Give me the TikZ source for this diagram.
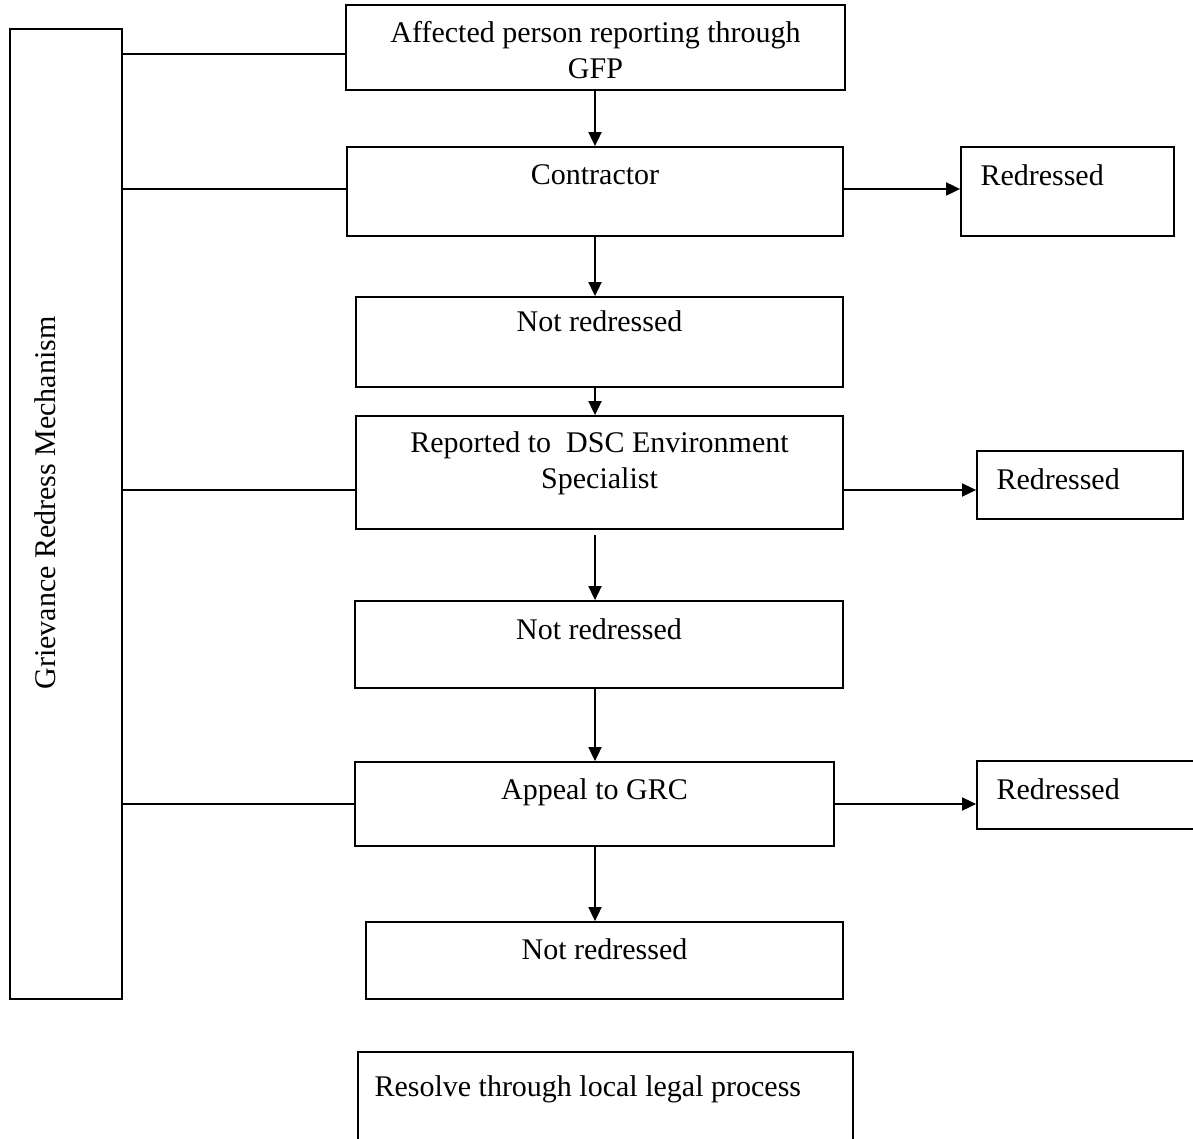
\documentclass[tikz,border=0pt]{standalone}
\usepackage{fontspec}
\setmainfont{Liberation Serif}
\usetikzlibrary{arrows.meta}

\begin{document}
\begin{tikzpicture}[
  x=0.5pt, y=-0.5pt,
  box/.style={draw, line width=0.9pt, inner sep=0pt},
  txt/.style={anchor=base, align=center, inner sep=0pt,
              font=\fontsize{15}{18}\selectfont},
  ltxt/.style={txt, anchor=base west},
  >={Triangle[length=7pt, width=6.5pt]}
]
\useasboundingbox (0,0) rectangle (1193,1139);

% side box
\node[box, minimum width=56pt, minimum height=485pt] (grm) at (66,514) {};
\node[txt, rotate=90] (grm-t) at ([xshift=-5.5pt, yshift=5.5pt]grm.center)
  {Grievance Redress Mechanism};

% main column
\node[box, minimum width=249.5pt, minimum height=42.5pt] (b1) at (595.5,47.5) {};
\node[box, minimum width=248pt,   minimum height=44.5pt] (b2) at (595,191.5) {};
\node[box, minimum width=243.5pt, minimum height=45pt]   (b3) at (599.5,342) {};
\node[box, minimum width=243.5pt, minimum height=56.5pt] (b4) at (599.5,472.5) {};
\node[box, minimum width=244pt,   minimum height=43.5pt] (b5) at (599,644.5) {};
\node[box, minimum width=239.5pt, minimum height=42pt]   (b6) at (594.5,804) {};
\node[box, minimum width=238.5pt, minimum height=38.5pt] (b7) at (604.5,960.5) {};
\node[box, minimum width=247.5pt, minimum height=59pt]   (b8) at (605.5,1111) {};

% redressed boxes
\node[box, minimum width=106.5pt, minimum height=44.5pt] (r1) at (1067.5,191.5) {};
\node[box, minimum width=103pt,   minimum height=34pt]   (r2) at (1080,485) {};
\node[box, minimum width=119pt,   minimum height=34pt]   (r3) at (1096,795) {};

% texts (base of a two-line text is its last line)
\node[txt] (b1-t) at ([yshift=-37pt]b1.north) {Affected person reporting through\\GFP};
\node[txt] (b2-t) at ([yshift=-19pt]b2.north) {Contractor};
\node[txt] (b3-t) at ([yshift=-17.5pt]b3.north) {Not redressed};
\node[txt] (b4-t) at ([yshift=-36.5pt]b4.north) {Reported to~ DSC Environment\\Specialist};
\node[txt] (b5-t) at ([yshift=-19.5pt]b5.north) {Not redressed};
\node[txt] (b6-t) at ([yshift=-19pt]b6.north) {Appeal to GRC};
\node[txt] (b7-t) at ([yshift=-19pt]b7.north) {Not redressed};
\node[ltxt] (b8-t) at ([xshift=8.5pt, yshift=-22.5pt]b8.north west) {Resolve through local legal process};
\foreach \r in {r1,r2,r3}
  \node[ltxt] (\r-t) at ([xshift=10pt, yshift=-19.5pt]\r.north west) {Redressed};

% links from the side box
\coordinate (b1m) at ([yshift=-3.25pt]b1.west);
\coordinate (b2m) at ([yshift=1.25pt]b2.west);
\coordinate (b4m) at ([yshift=-8.75pt]b4.west);
\draw[line width=0.9pt] (grm.east |- b1m) -- (b1m);
\draw[line width=0.9pt] (grm.east |- b2m) -- (b2m);
\draw[line width=0.9pt] (grm.east |- b4m) -- (b4m);
\draw[line width=0.9pt] (grm.east |- b6.west) -- (b6.west);

% flow arrows
\foreach \a/\b in {b1/b2, b2/b3, b3/b4, b5/b6, b6/b7}
  \draw[->, line width=0.9pt] (\a.south -| b2.south) -- (\b.north -| b2.south);
\draw[->, line width=0.9pt, shorten <=2.5pt] (b4.south -| b2.south) -- (b5.north -| b2.south);
\draw[->, line width=0.9pt] (b2m -| b2.east) -- (b2m -| r1.west);
\draw[->, line width=0.9pt] (b4m -| b4.east) -- (b4m -| r2.west);
\draw[->, line width=0.9pt] (b6.east) -- (b6.east -| r3.west);
\end{tikzpicture}
\end{document}
